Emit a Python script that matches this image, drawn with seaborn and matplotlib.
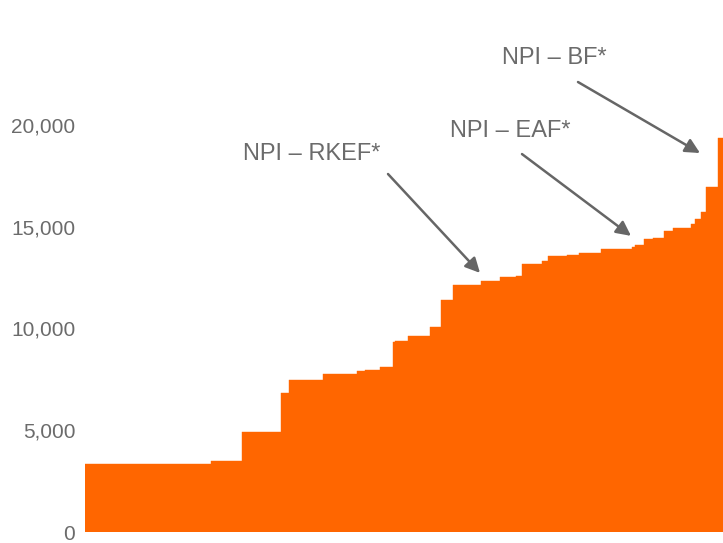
import matplotlib
matplotlib.use("Agg")
import matplotlib.pyplot as plt
import seaborn as sns
import numpy as np
import pandas as pd

# capacity of each step (width) and cash cost of each step (height)
capacity = [126, 31, 39, 8, 34, 34, 8, 15, 13, 2, 13, 22, 11, 12, 28, 19, 16, 6,
            20, 6, 19, 12, 22, 31, 3, 9, 9, 11, 9, 18, 4, 6, 5, 12, 5]
cost = [3360, 3490, 4910, 6830, 7470, 7760, 7910, 7960, 8110, 9340, 9390, 9630,
        10070, 11400, 12140, 12330, 12530, 12580, 13170, 13320, 13560, 13610,
        13710, 13910, 14000, 14100, 14400, 14450, 14790, 14940, 15140, 15380,
        15730, 16950, 19360]
y_ticks = [0, 5000, 10000, 15000, 20000]

# labels and arrows (start, tip) in data units
labels = ["NPI – BF*", "NPI – EAF*", "NPI – RKEF*"]
label_pos = [(2345, 23290), (2125, 19710), (1135, 18570)]
arrow_from = [(2465, 22110), (2185, 18570), (1515, 17590)]
arrow_to = [(3075, 18620), (2730, 14550), (1975, 12730)]

edges = np.concatenate([[0], np.cumsum(capacity)]) * 5
df = pd.DataFrame({"mid": (edges[:-1] + edges[1:]) / 2, "cost": cost})

sns.set_style("white")
plt.rcParams['font.family'] = ['Liberation Sans', 'DejaVu Sans']

fig = plt.figure(figsize=(7.23, 5.43), dpi=100)
ax = fig.add_axes([85 / 723, 11 / 543, 638 / 723, 532 / 543])

sns.histplot(data=df, x="mid", weights="cost", bins=list(edges), ax=ax,
             color="#FF6600", alpha=1, edgecolor="#FF6600", linewidth=0.3)

ax.set_xlim(edges[0], edges[-1])
ax.set_ylim(0, 26140)
ax.set_yticks(y_ticks)
ax.set_yticklabels([f"{v:,}" for v in y_ticks], fontsize=15, color="#6b6b6b")
ax.set_xticks([])
ax.tick_params(axis="y", length=0, pad=7)
ax.set_xlabel("")
ax.set_ylabel("")
sns.despine(ax=ax, left=True, bottom=True)

for lab, pos, a, b in zip(labels, label_pos, arrow_from, arrow_to):
    ax.text(pos[0], pos[1], lab, fontsize=17, color="#6b6b6b", ha="center", va="center")
    ax.annotate("", xy=b, xytext=a,
                arrowprops=dict(arrowstyle="-|>", color="#666666", lw=1.8,
                                mutation_scale=22, shrinkA=0, shrinkB=0))

fig.savefig("out.png", dpi=100)
